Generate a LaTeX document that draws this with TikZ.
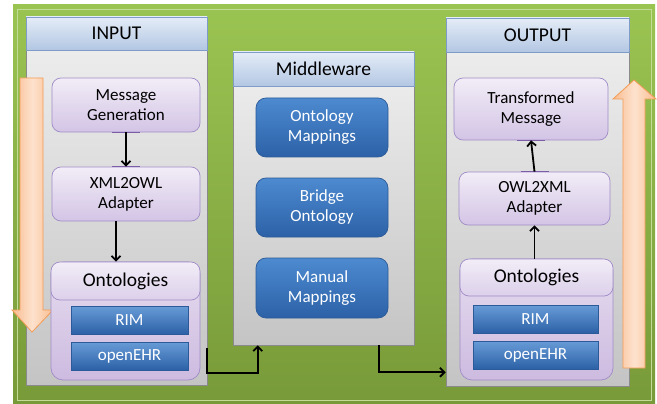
\documentclass[tikz,border=0pt]{standalone}
\usepackage{fontspec}
\setmainfont{Carlito}
\usetikzlibrary{arrows.meta}
\definecolor{gtop}{HTML}{9AC452}
\definecolor{gbot}{HTML}{789A39}
\definecolor{ptop}{HTML}{F0F0F0}
\definecolor{pbot}{HTML}{C4C4C4}
\definecolor{pdraw}{HTML}{8A8A8A}
\definecolor{htop}{HTML}{E4ECF7}
\definecolor{hbot}{HTML}{B3C7E3}
\definecolor{hdraw}{HTML}{7F9BC8}
\definecolor{ltop}{HTML}{F2EDF7}
\definecolor{lbot}{HTML}{D3C4E5}
\definecolor{ldraw}{HTML}{A08CC6}
\definecolor{lotop}{HTML}{E6DCEF}
\definecolor{lobot}{HTML}{CDBBE0}
\definecolor{btop}{HTML}{4D8AD0}
\definecolor{bbot}{HTML}{2C61A7}
\definecolor{bdraw}{HTML}{2A5A98}
\definecolor{odark}{HTML}{F9BC90}
\definecolor{olight}{HTML}{FDE2CE}
\definecolor{odraw}{HTML}{F39C55}
\definecolor{tick}{HTML}{7B5EA7}
\begin{document}
\begin{tikzpicture}[x=1pt,y=-1pt,
  panel/.style={draw=pdraw, top color=ptop, bottom color=pbot, inner sep=0pt, line width=0.6pt},
  head/.style={draw=hdraw, top color=htop, bottom color=hbot, inner sep=0pt, line width=0.8pt, font=\fontsize{19.5}{22}\selectfont},
  lav/.style={rounded corners=9pt, draw=ldraw, top color=ltop, bottom color=lbot, align=center, inner sep=0pt, line width=0.7pt, font=\fontsize{17}{20}\selectfont, text=black},
  lavouter/.style={rounded corners=12pt, draw=ldraw, top color=lotop, bottom color=lobot, inner sep=0pt, line width=0.7pt},
  lavhead/.style={rounded corners=9pt, draw=ldraw, top color=ltop, bottom color=lbot!80!white, inner sep=0pt, line width=0.7pt, font=\fontsize{19.5}{22}\selectfont, text=black},
  blu/.style={rounded corners=10pt, draw=bdraw, top color=btop, bottom color=bbot, text=white, align=center, inner sep=0pt, line width=0.7pt, font=\fontsize{17}{20}\selectfont},
  blubar/.style={draw=bdraw, top color=btop!85!white, bottom color=bbot, text=white, inner sep=0pt, line width=0.7pt, font=\fontsize{17}{20}\selectfont},
  conn/.style={line width=1.8pt, -{Straight Barb[length=4.5pt,width=9pt]}},
  tickline/.style={draw=tick, line width=1.6pt},
  orange/.style={draw=odraw, line width=0.8pt, left color=odark, right color=odark, middle color=olight}
]
\useasboundingbox (0,0) rectangle (657,404);
\fill[white] (0,0) rectangle (657,404);
% green background
\shade[top color=gtop, bottom color=gbot] (13,5) rectangle (655,404);
\draw[gtop!60!white, line width=0.6pt] (17,9) rectangle (651,400);

% panels
\node[panel, minimum width=181pt, minimum height=368pt] (inpanel) at (116.5,201) {};
\node[head, minimum width=181pt, minimum height=33pt] (inhead) at (116.5,33.5) {INPUT};
\node[panel, minimum width=181pt, minimum height=293pt] (midpanel) at (323.5,198.5) {};
\node[head, minimum width=181pt, minimum height=34pt] (midhead) at (323.5,69) {Middleware};
\node[panel, minimum width=183pt, minimum height=368pt] (outpanel) at (537.5,202) {};
\node[head, minimum width=183pt, minimum height=34pt] (outhead) at (537.5,35) {OUTPUT};

% orange arrows
\path[orange] (20,78) -- (43,78) -- (43,310) -- (53,310) -- (32,332) -- (12,310) -- (20,310) -- cycle;
\path[orange] (623,368) -- (623,99) -- (613,99) -- (634,80) -- (656,99) -- (645,99) -- (645,368) -- cycle;

% input boxes
\node[lav, minimum width=148pt, minimum height=54pt] (mg) at (126,105) {Message\\Generation};
\node[lav, minimum width=148pt, minimum height=54pt] (x2o) at (126,194) {XML2OWL\\Adapter};
\node[lavouter, minimum width=149pt, minimum height=118pt] (inont) at (125.5,321) {};
\node[lavhead, minimum width=149pt, minimum height=38pt] (inonthead) at (125.5,281) {Ontologies};
\node[blubar, minimum width=117pt, minimum height=28pt] (inrim) at (129.5,320) {RIM};
\node[blubar, minimum width=117pt, minimum height=28pt] (inehr) at (129.5,356) {openEHR};

% middleware boxes
\node[blu, minimum width=132pt, minimum height=59pt] (om) at (322,127.5) {Ontology\\Mappings};
\node[blu, minimum width=132pt, minimum height=59pt] (bo) at (322,207.5) {Bridge\\Ontology};
\node[blu, minimum width=132pt, minimum height=60pt] (mm) at (322,288) {Manual\\Mappings};

% output boxes
\node[lav, minimum width=154pt, minimum height=62pt] (tm) at (531,109) {Transformed\\Message};
\node[lav, minimum width=151pt, minimum height=53pt] (o2x) at (534.5,198.5) {OWL2XML\\Adapter};
\node[lavouter, minimum width=153pt, minimum height=121pt] (outont) at (536.5,319.5) {};
\node[lavhead, minimum width=153pt, minimum height=37pt] (outonthead) at (536.5,277.5) {Ontologies};
\node[blubar, minimum width=125pt, minimum height=28pt] (outrim) at (535.5,319) {RIM};
\node[blubar, minimum width=125pt, minimum height=28pt] (outehr) at (535.5,355) {openEHR};

% connection ticks
\draw[tickline] ([xshift=-14pt]mg.south) -- ([xshift=14pt]mg.south);
\draw[tickline] ([xshift=-14pt]x2o.north) -- ([xshift=14pt]x2o.north);
\draw[tickline] ([xshift=-14pt]tm.south) -- ([xshift=14pt]tm.south);
\draw[tickline] ([xshift=-14pt]o2x.north) -- ([xshift=14pt]o2x.north);

% connectors
\draw[conn] (mg.south) -- (x2o.north);
\draw[conn] ([xshift=-10pt]x2o.south) -- ([xshift=-10pt]x2o.south |- inonthead.north);
\draw[conn] (o2x.north) -- (tm.south);
\draw[conn] (outonthead.north -| o2x.south) -- (o2x.south);
\coordinate (c1) at ([yshift=37pt]inpanel.south east);
\draw[conn] (c1) -- ([yshift=12pt]inpanel.south east) -| ([xshift=25pt]midpanel.south west);
\draw[conn] ([xshift=-35pt]midpanel.south east) |- ([yshift=14pt]outpanel.south west);
\end{tikzpicture}
\end{document}
